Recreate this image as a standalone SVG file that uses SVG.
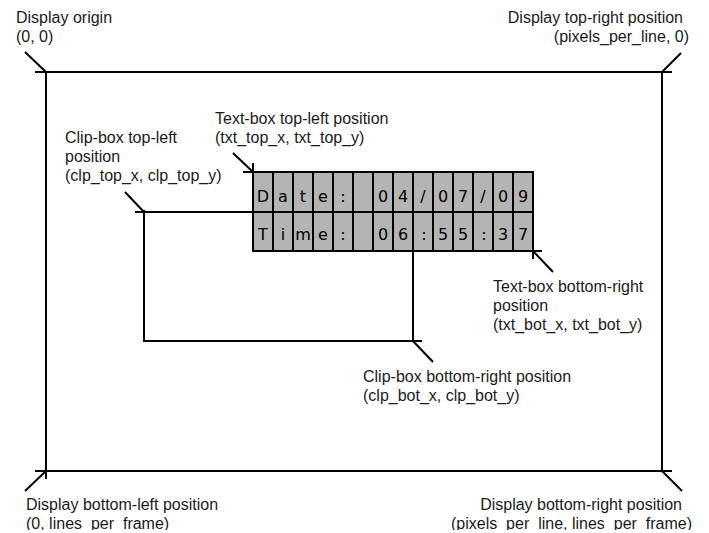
<svg xmlns="http://www.w3.org/2000/svg" width="709" height="533" viewBox="0 0 709 533">
<style>
.ln{stroke:#000;stroke-width:2;fill:none;stroke-linecap:butt}
.lbl{font-family:"Liberation Sans",Arial,sans-serif;font-size:16px;fill:#1a1a1a}
.cell{fill:#b4b4b4;stroke:#000;stroke-width:2}
.ch{font-family:"DejaVu Sans",sans-serif;font-size:16px;fill:#000;text-anchor:middle}
.end{text-anchor:end}
</style>
<defs>
<clipPath id="bottomClip"><rect x="0" y="0" width="709" height="530"/></clipPath>
</defs>
<rect width="709" height="533" fill="#fff"/>

<g id="display">
<path class="ln" d="M35,72 H672 M46,72 V479 M35,471 H672 M662,72 V471"/>
</g>

<g id="clipbox">
<path class="ln" d="M135,212 H253 M144,210 V341 H422 M413,251 V341"/>
</g>

<g id="textbox">
<rect class="cell" x="253" y="172" width="280" height="79"/>
<path class="ln" d="M273,172V251 M293,172V251 M313,172V251 M333,172V251 M353,172V251 M373,172V251 M393,172V251 M413,172V251 M433,172V251 M453,172V251 M473,172V251 M493,172V251 M513,172V251 M253,212H533"/>
<path class="ln" d="M243,172 H253 M253,163 V172 M533,251 H542 M533,251 V259"/>
<g class="ch">
<text x="263" y="202">D</text><text x="283" y="202">a</text><text x="303" y="202">t</text><text x="323" y="202">e</text><text x="343" y="202">:</text>
<text x="383" y="202">0</text><text x="403" y="202">4</text><text x="423" y="202">/</text><text x="443" y="202">0</text><text x="463" y="202">7</text><text x="483" y="202">/</text><text x="503" y="202">0</text><text x="523" y="202">9</text>
<text x="263" y="240">T</text><text x="283" y="240">i</text><text x="303" y="240">m</text><text x="323" y="240">e</text><text x="343" y="240">:</text>
<text x="383" y="240">0</text><text x="403" y="240">6</text><text x="424" y="240">:</text><text x="443" y="240">5</text><text x="463" y="240">5</text><text x="484" y="240">:</text><text x="503" y="240">3</text><text x="523" y="240">7</text>
</g>
</g>

<g id="connectors">
<path class="ln" d="M25,52 L46,72 M681,53 L662,72 M25,491 L46,471 M662,471 L682,491 M233,153 L253,172 M125,192 L144,212 M533,251 L553,272 M413,341 L433,362"/>
</g>

<g id="label-origin">
<text class="lbl" x="16" y="23">Display origin</text>
<text class="lbl" x="16" y="42">(0, 0)</text>
</g>
<g id="label-top-right">
<text class="lbl end" x="683" y="23">Display top-right position</text>
<text class="lbl end" x="689" y="42">(pixels_per_line, 0)</text>
</g>
<g id="label-txt-top-left">
<text class="lbl" x="215" y="124">Text-box top-left position</text>
<text class="lbl" x="215" y="143">(txt_top_x, txt_top_y)</text>
</g>
<g id="label-clp-top-left">
<text class="lbl" x="65" y="143">Clip-box top-left</text>
<text class="lbl" x="65" y="162">position</text>
<text class="lbl" x="65" y="181">(clp_top_x, clp_top_y)</text>
</g>
<g id="label-txt-bot-right">
<text class="lbl" x="493" y="292">Text-box bottom-right</text>
<text class="lbl" x="493" y="311">position</text>
<text class="lbl" x="493" y="330">(txt_bot_x, txt_bot_y)</text>
</g>
<g id="label-clp-bot-right">
<text class="lbl" x="363" y="382">Clip-box bottom-right position</text>
<text class="lbl" x="363" y="401">(clp_bot_x, clp_bot_y)</text>
</g>
<g id="label-bottom-left" clip-path="url(#bottomClip)">
<text class="lbl" x="26" y="510">Display bottom-left position</text>
<text class="lbl" x="26" y="529">(0, lines_per_frame)</text>
</g>
<g id="label-bottom-right" clip-path="url(#bottomClip)">
<text class="lbl end" x="682" y="510">Display bottom-right position</text>
<text class="lbl end" x="692" y="529">(pixels_per_line, lines_per_frame)</text>
</g>
</svg>
